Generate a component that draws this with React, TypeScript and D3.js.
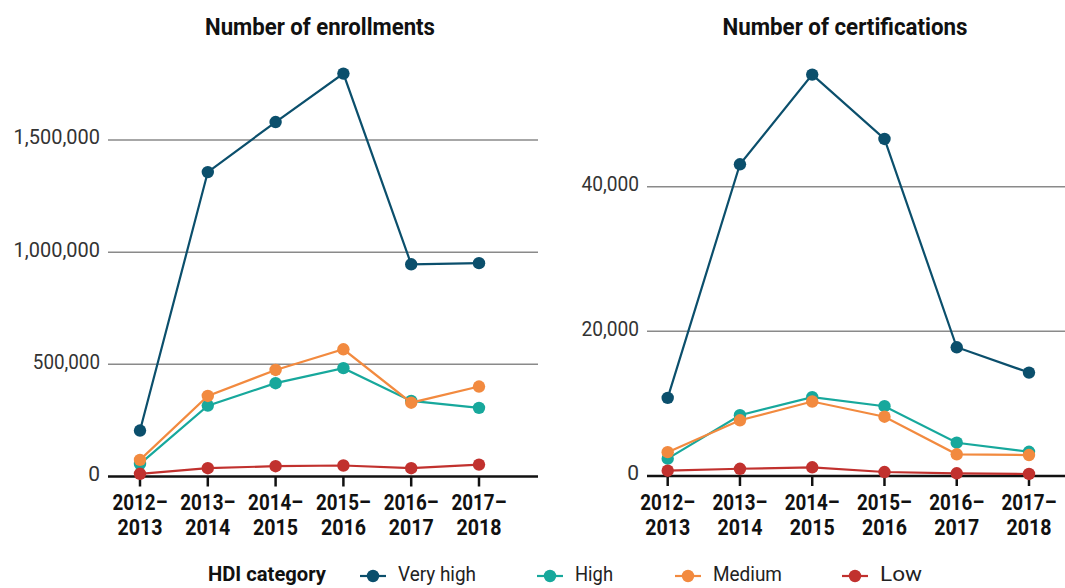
import React from 'react';
import * as d3 from 'd3';

// academic years on the x axis
const years = ['2012–2013', '2013–2014', '2014–2015', '2015–2016', '2016–2017', '2017–2018'];

const seriesNames = ['Very high', 'High', 'Medium', 'Low'];
const seriesColors = ['#0b4f6c', '#17a89c', '#f28a3f', '#c1312e'];

// enrollments per HDI category
const enrollVeryHigh = [205000, 1357000, 1580000, 1796000, 946000, 951000];
const enrollHigh = [56000, 316000, 416000, 483000, 337000, 306000];
const enrollMedium = [74000, 359000, 475000, 567000, 329000, 401000];
const enrollLow = [12000, 37000, 46000, 49000, 37000, 53000];

// certifications per HDI category
const certVeryHigh = [10800, 43100, 55500, 46600, 17800, 14300];
const certHigh = [2400, 8400, 10900, 9650, 4600, 3350];
const certMedium = [3300, 7700, 10300, 8200, 3000, 2900];
const certLow = [730, 1000, 1200, 550, 370, 280];

const enrollTicks = [0, 500000, 1000000, 1500000];
const certTicks = [0, 20000, 40000];

const FONT = 'Roboto, "DejaVu Sans", sans-serif';

interface PanelProps {
  title: string;
  titleX: number;
  titleLen: number;
  series: number[][];
  ticks: number[];
  yDomain: [number, number];
  yRange: [number, number];
  xRange: [number, number];
  gridX: [number, number];
}

const Panel: React.FC<PanelProps> = ({ title, titleX, titleLen, series, ticks, yDomain, yRange, xRange, gridX }) => {
  const x = d3.scalePoint<string>().domain(years).range(xRange);
  const y = d3.scaleLinear().domain(yDomain).range(yRange);
  const fmt = d3.format(',');
  const line = d3.line<number>()
    .x((_, i) => x(years[i]) as number)
    .y(d => y(d));

  return (
    <g>
      <text x={titleX} y={35} textAnchor="middle" fontFamily={FONT} fontWeight={700} fontSize={24}
        fill="#111" textLength={titleLen} lengthAdjust="spacingAndGlyphs">
        {title}
      </text>

      {ticks.filter(t => t > 0).map(t => (
        <line key={t} x1={gridX[0]} x2={gridX[1]} y1={y(t)} y2={y(t)} stroke="#8a8a8a" strokeWidth={1.5} />
      ))}
      {ticks.map(t => {
        const s = fmt(t);
        return (
          <text key={'l' + t} x={gridX[0] - 8} y={y(t) - 3} dy="0.35em" textAnchor="end" fontFamily={FONT}
            fontSize={21} fill="#333" textLength={s.length > 1 ? s.length * 9.6 : undefined} lengthAdjust="spacingAndGlyphs">
            {s}
          </text>
        );
      })}

      <line x1={gridX[0]} x2={gridX[1]} y1={y(0)} y2={y(0)} stroke="#111" strokeWidth={2.5} />
      {years.map(yr => {
        const [a, b] = yr.split('–');
        const cx = x(yr) as number;
        return (
          <g key={yr}>
            <line x1={cx} x2={cx} y1={y(0)} y2={y(0) + 10} stroke="#111" strokeWidth={2.5} />
            <text x={cx} y={510} textAnchor="middle" fontFamily={FONT} fontWeight={700} fontSize={22} fill="#111"
              textLength={55} lengthAdjust="spacingAndGlyphs">{a + '–'}</text>
            <text x={cx} y={535} textAnchor="middle" fontFamily={FONT} fontWeight={700} fontSize={22} fill="#111"
              textLength={45} lengthAdjust="spacingAndGlyphs">{b}</text>
          </g>
        );
      })}

      {series.map((vals, si) => (
        <g key={si}>
          <path d={line(vals) || ''} fill="none" stroke={seriesColors[si]} strokeWidth={2.2} />
          {vals.map((v, i) => (
            <circle key={i} cx={x(years[i]) as number} cy={y(v)} r={6.2} fill={seriesColors[si]} />
          ))}
        </g>
      ))}
    </g>
  );
};

const legendTextX = [398, 575, 713, 880];
const legendTextLen = [78, 38, 69, 42];
const LEGEND_Y = 576;

const App: React.FC = () => {
  return (
    <svg width={1065} height={588} style={{ position: 'absolute', left: 0, top: 0, background: '#fff' }}>
      <Panel
        title="Number of enrollments"
        titleX={320}
        titleLen={230}
        series={[enrollVeryHigh, enrollHigh, enrollMedium, enrollLow]}
        ticks={enrollTicks}
        yDomain={[0, 1500000]}
        yRange={[476.5, 140]}
        xRange={[140, 479]}
        gridX={[108, 538]}
      />
      <Panel
        title="Number of certifications"
        titleX={845}
        titleLen={245}
        series={[certVeryHigh, certHigh, certMedium, certLow]}
        ticks={certTicks}
        yDomain={[0, 40000]}
        yRange={[476, 186.7]}
        xRange={[667.7, 1029]}
        gridX={[647, 1065]}
      />

      <text x={208} y={LEGEND_Y + 5} fontFamily={FONT} fontWeight={700} fontSize={21} fill="#111"
        textLength={118} lengthAdjust="spacingAndGlyphs">HDI category</text>
      {seriesNames.map((name, i) => {
        const tx = legendTextX[i];
        return (
          <g key={name}>
            <line x1={tx - 38} x2={tx - 12} y1={LEGEND_Y} y2={LEGEND_Y} stroke={seriesColors[i]} strokeWidth={2.2} />
            <circle cx={tx - 25} cy={LEGEND_Y} r={6.2} fill={seriesColors[i]} />
            <text x={tx} y={LEGEND_Y + 5} fontFamily={FONT} fontSize={21} fill="#222"
              textLength={legendTextLen[i]} lengthAdjust="spacingAndGlyphs">{name}</text>
          </g>
        );
      })}
    </svg>
  );
};

export default App;
